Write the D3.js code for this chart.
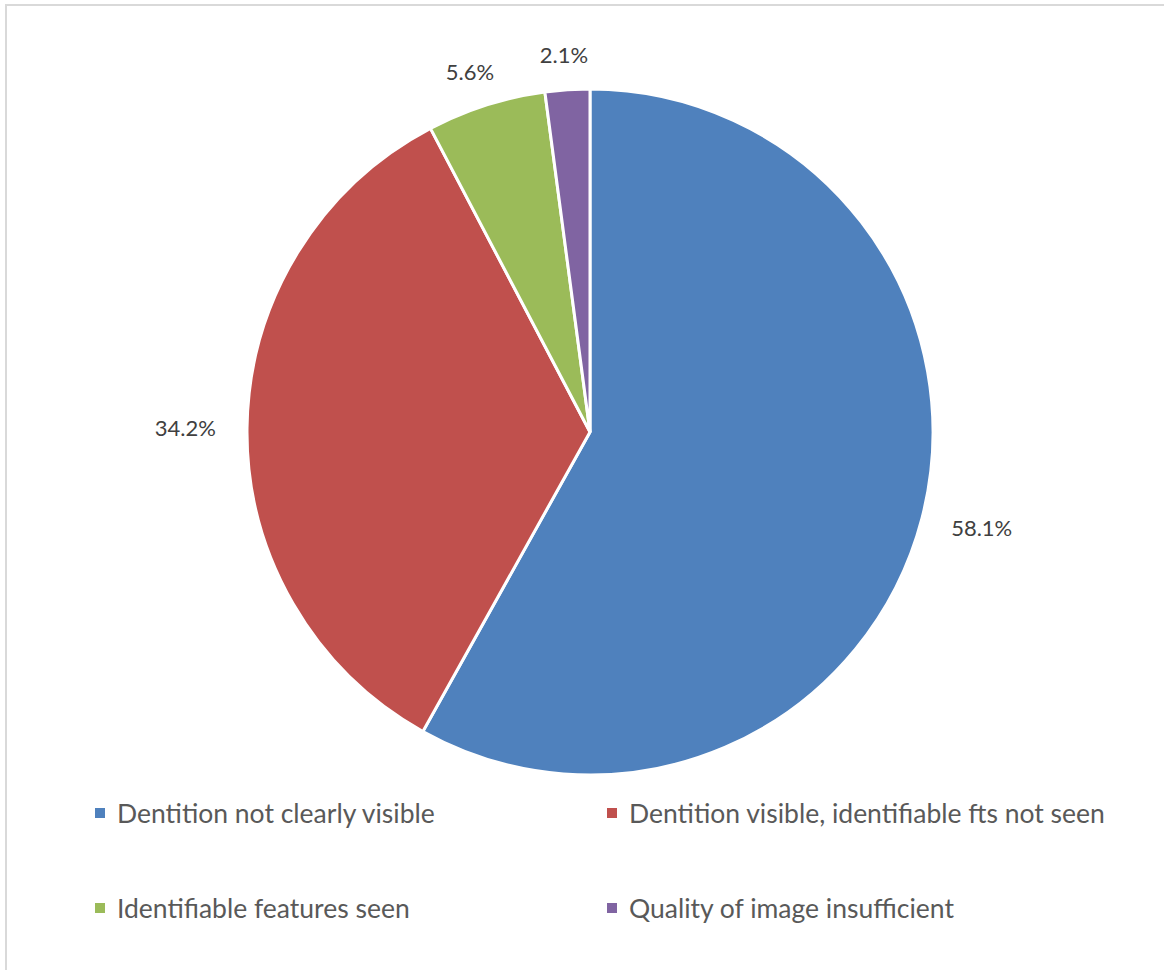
<!DOCTYPE html>
<html>
<head>
<meta charset="utf-8">
<script src="https://cdn.jsdelivr.net/npm/d3@7"></script>
<style>
  html, body { margin: 0; padding: 0; background: #fff; }
  svg { display: block; }
</style>
</head>
<body>
<svg id="chart" width="1164" height="970"></svg>
<script>
// Share of images by dentition assessment outcome (%)
const categories = [
  "Dentition not clearly visible",
  "Dentition visible, identifiable fts not seen",
  "Identifiable features seen",
  "Quality of image insufficient"
];
const values = [58.1, 34.2, 5.6, 2.1];
const colors = ["#4f81bd", "#c0504d", "#9bbb59", "#8064a2"];

const W = 1164, H = 970;
const svg = d3.select("#chart");
const FONT = "Lato, 'Open Sans', sans-serif";

// chart frame (left and top edges visible, rest runs off the canvas)
svg.append("rect")
  .attr("x", 6).attr("y", 5)
  .attr("width", W + 20).attr("height", H + 20)
  .attr("fill", "#fff")
  .attr("stroke", "#d9d9d9")
  .attr("stroke-width", 2);

const cx = 590, cy = 432, R = 343;

const data = categories.map((c, i) => ({ name: c, value: values[i], color: colors[i] }));

const pie = d3.pie().value(d => d.value).sort(null).startAngle(0).endAngle(2 * Math.PI);
const arcs = pie(data);
const arc = d3.arc().innerRadius(0).outerRadius(R);

const g = svg.append("g").attr("transform", `translate(${cx},${cy})`);

g.selectAll("path.slice")
  .data(arcs)
  .join("path")
  .attr("class", "slice")
  .attr("d", arc)
  .attr("fill", d => d.data.color)
  .attr("stroke", "#fff")
  .attr("stroke-width", 3)
  .attr("stroke-linejoin", "miter");

// value labels placed just outside the rim, shifted away from the pie by their box size
const labelPad = 22;
const labels = g.selectAll("text.val")
  .data(arcs)
  .join("text")
  .attr("class", "val")
  .attr("font-family", FONT)
  .attr("font-size", 22)
  .attr("fill", "#404040")
  .attr("text-anchor", "middle")
  .attr("dominant-baseline", "central")
  .text(d => d3.format(".1f")(d.data.value) + "%");

labels.each(function(d) {
  const a = (d.startAngle + d.endAngle) / 2;
  const sx = Math.sin(a), sy = -Math.cos(a);
  const bb = this.getBBox();
  const r = R + labelPad;
  const x = sx * r + sx * bb.width * 0.65;
  const y = sy * r + sy * bb.height * 0.5;
  d3.select(this).attr("x", x).attr("y", y);
});

// legend: two columns, two rows
const legend = svg.append("g");
const colX = [95, 607], rowY = [813, 908];
const items = legend.selectAll("g.item")
  .data(data)
  .join("g")
  .attr("class", "item")
  .attr("transform", (d, i) => `translate(${colX[i % 2]},${rowY[Math.floor(i / 2)]})`);

items.append("rect")
  .attr("x", 0).attr("y", -5)
  .attr("width", 10).attr("height", 10)
  .attr("fill", d => d.color);

items.append("text")
  .attr("x", 22).attr("y", 0)
  .attr("dominant-baseline", "central")
  .attr("font-family", FONT)
  .attr("font-size", 26.5)
  .attr("fill", "#595959")
  .text(d => d.name);
</script>
</body>
</html>
